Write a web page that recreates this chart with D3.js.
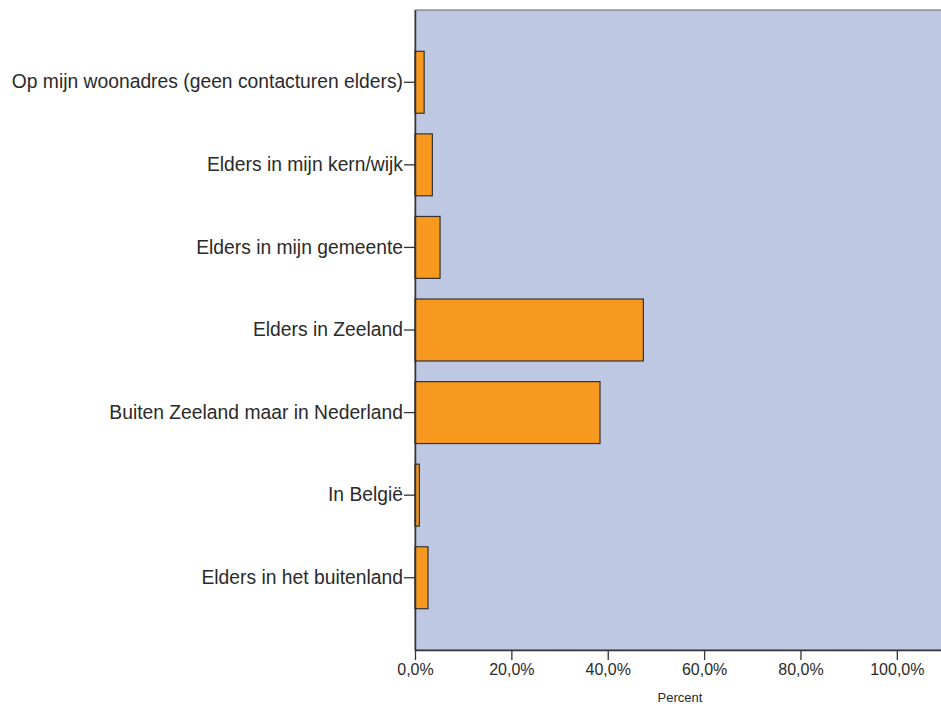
<!DOCTYPE html>
<html>
<head>
<meta charset="utf-8">
<script src="https://cdn.jsdelivr.net/npm/d3@7"></script>
<style>
  body { margin: 0; background: #fff; }
  svg { display: block; }
</style>
</head>
<body>
<div id="chart"></div>
<script>
// categories (top to bottom) and percentages
var categories = [
  "Op mijn woonadres (geen contacturen elders)",
  "Elders in mijn kern/wijk",
  "Elders in mijn gemeente",
  "Elders in Zeeland",
  "Buiten Zeeland maar in Nederland",
  "In België",
  "Elders in het buitenland"
]
var percents = [1.9, 3.6, 5.2, 47.4, 38.4, 0.9, 2.7]
var xTicks = [0, 20, 40, 60, 80, 100]
var xTitle = "Percent"

var W = 941, H = 706
var margin = {top: 10, left: 415, bottom: 56}
var plotW = 530   // runs past the right edge, like the reference
var plotH = H - margin.top - margin.bottom

var svg = d3.select("#chart").append("svg")
  .attr("width", W)
  .attr("height", H)

var g = svg.append("g")
  .attr("transform", "translate(" + margin.left + "," + margin.top + ")")

var x = d3.scaleLinear()
  .domain([0, 110])
  .range([0, plotW])

var y = d3.scaleBand()
  .domain(categories)
  .range([0, plotH])
  .paddingInner(0.25)
  .paddingOuter(0.5)

// plot background
g.append("rect")
  .attr("x", 0)
  .attr("y", 0)
  .attr("width", plotW)
  .attr("height", plotH)
  .attr("fill", "#bfc8e3")
  .attr("stroke", "#666")
  .attr("stroke-width", 1)

// bars
g.selectAll(".bar")
  .data(percents)
  .enter()
  .append("rect")
    .attr("class", "bar")
    .attr("x", x(0))
    .attr("y", function(d, i) { return y(categories[i]) })
    .attr("width", function(d) { return x(d) - x(0) })
    .attr("height", y.bandwidth())
    .attr("fill", "#f7991f")
    .attr("stroke", "#333")
    .attr("stroke-width", 1.2)

// y axis
var yAxis = g.append("g")
  .call(d3.axisLeft(y).tickSize(11).tickSizeOuter(0).tickPadding(1))
yAxis.select(".domain").attr("stroke", "#333").attr("stroke-width", 1.5)
yAxis.selectAll(".tick line").attr("stroke", "#333").attr("stroke-width", 1.3)
yAxis.selectAll("text")
  .style("font-family", "Liberation Sans, Arial, sans-serif")
  .style("font-size", "19.3px")
  .attr("fill", "#2a2a2a")

// x axis
var xAxis = g.append("g")
  .attr("transform", "translate(0," + plotH + ")")
  .call(d3.axisBottom(x)
    .tickValues(xTicks)
    .tickSize(10)
    .tickSizeOuter(0)
    .tickPadding(4)
    .tickFormat(function(d) { return d3.format(".1f")(d).replace(".", ",") + "%" }))
xAxis.select(".domain").attr("stroke", "#333").attr("stroke-width", 1.5)
xAxis.selectAll(".tick line").attr("stroke", "#333").attr("stroke-width", 1.3)
xAxis.selectAll("text")
  .style("font-family", "Liberation Sans, Arial, sans-serif")
  .style("font-size", "16px")
  .attr("fill", "#2a2a2a")

// x title
g.append("text")
  .attr("x", plotW / 2)
  .attr("y", plotH + 52)
  .attr("text-anchor", "middle")
  .style("font-family", "Liberation Sans, Arial, sans-serif")
  .style("font-size", "13px")
  .attr("fill", "#2a2a2a")
  .text(xTitle)
</script>
</body>
</html>
